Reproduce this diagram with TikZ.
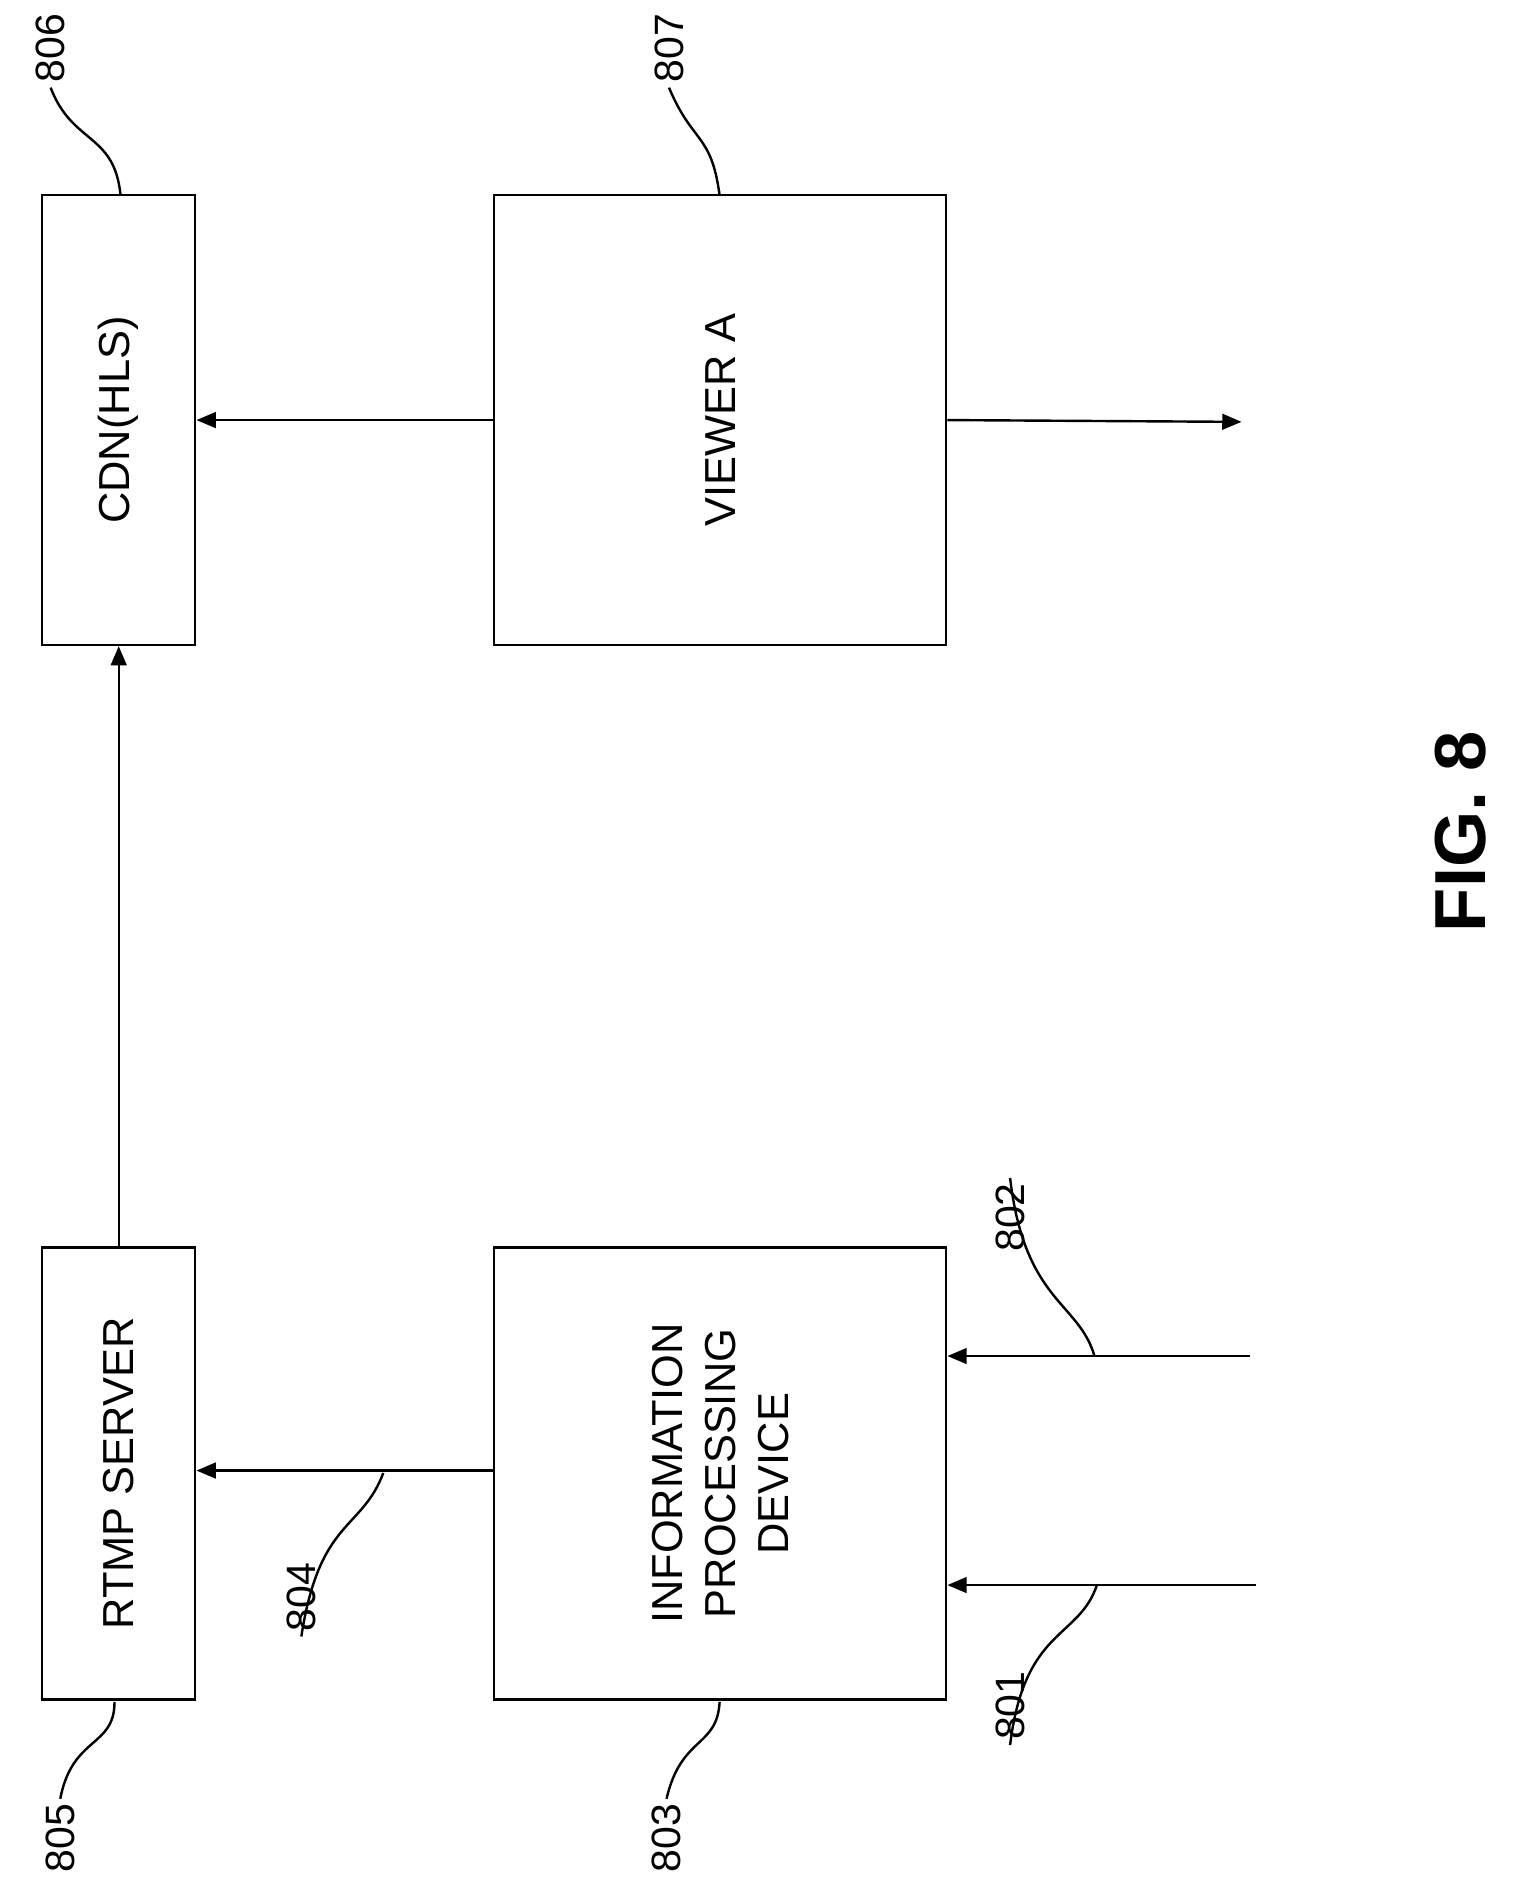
\documentclass[tikz,border=0pt]{standalone}
\usepackage{fontspec}
\setmainfont{Liberation Sans}
\usetikzlibrary{arrows.meta}
\begin{document}
\begin{tikzpicture}[x=1pt,y=-1pt,line width=2pt,
  box/.style={draw,inner sep=0pt},
  txt/.style={rotate=90,font=\fontsize{36}{44}\selectfont,align=center},
  lab/.style={rotate=90,font=\fontsize{34}{40}\selectfont},
  arr/.style={-{Triangle[length=16pt,width=13pt]}}]
\useasboundingbox (0,0) rectangle (1257,1568);
\node[box,minimum width=127pt,minimum height=375pt] (rtmp) at (98.5,1222.5) {};
\node[txt] (rtmpt) at (rtmp) {RTMP SERVER};
\node[box,minimum width=127pt,minimum height=373pt] (cdn) at (98.5,348.5) {};
\node[txt] (cdnt) at (cdn) {CDN(HLS)};
\node[box,minimum width=375pt,minimum height=375pt] (ipd) at (597.5,1222.5) {};
\node[txt] (ipdt) at (ipd) {INFORMATION\\PROCESSING\\DEVICE};
\node[box,minimum width=375pt,minimum height=373pt] (va) at (597.5,348.5) {};
\node[txt] (vat) at (va) {VIEWER A};
\coordinate (o) at (1030,350);
\coordinate (i1) at (1042,1315);
\coordinate (i2) at (1037,1125);
\draw[arr] (rtmp.north) -- (cdn.south);
\draw[arr] (ipd.west |- 0,1220) -- (rtmp.east |- 0,1220);
\draw[arr] (va.west) -- (cdn.east);
\draw[arr] (va.east) -- (o);
\draw[arr] (i1) -- (ipd.east |- i1);
\draw[arr] (i2) -- (ipd.east |- i2);
% labels
\node[lab] (l805) at (50,1525) {805};
\draw (l805.east) .. controls (60,1440) and (95,1450) .. (95,1412);
\node[lab] (l806) at (42,40) {806};
\draw (l806.west) .. controls (60,120) and (95,110) .. (100,162);
\node[lab] (l807) at (555,40) {807};
\draw (l807.west) .. controls (575,120) and (590,110) .. (597,162);
\node[lab] (l803) at (553,1525) {803};
\draw (l803.east) .. controls (565,1440) and (595,1450) .. (597,1412);
\node[lab] (l804) at (250,1325) {804};
\draw (l804.west) .. controls (265,1260) and (300,1270) .. (318,1222);
\node[lab] (l801) at (838,1415) {801};
\draw (l801.west) .. controls (850,1350) and (895,1360) .. (910,1315);
\node[lab] (l802) at (838,1010) {802};
\draw (l802.east) .. controls (850,1080) and (895,1080) .. (908,1125);
\node[rotate=90,font=\bfseries\fontsize{60}{70}\selectfont] (fig) at (1212,690) {FIG. 8};
\end{tikzpicture}
\end{document}
